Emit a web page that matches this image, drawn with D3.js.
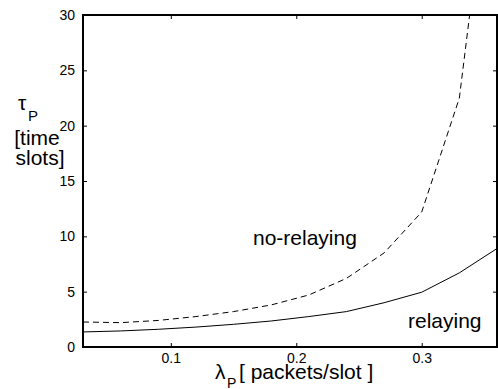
<!DOCTYPE html>
<html>
<head>
<meta charset="utf-8">
<script src="https://cdn.jsdelivr.net/npm/d3@7"></script>
<style>
  html, body { margin: 0; padding: 0; background: #fff; }
  svg { display: block; font-family: "Liberation Sans", Arial, Helvetica, sans-serif; }
</style>
</head>
<body>
<svg id="chart" width="498" height="389"></svg>
<script>
// ---- data ----
const lambdaP = [0.03, 0.06, 0.09, 0.12, 0.15, 0.18, 0.21, 0.24, 0.27, 0.30, 0.33, 0.36];
const relaying = [1.36, 1.45, 1.6, 1.8, 2.05, 2.35, 2.75, 3.2, 4.0, 4.95, 6.7, 8.9];
const noRelaying = [2.26, 2.2, 2.4, 2.75, 3.2, 3.8, 4.7, 6.2, 8.5, 12.2, 22.5, 50];
const xTicks = [0.1, 0.2, 0.3];
const yTicks = [0, 5, 10, 15, 20, 25, 30];
const xDomain = [0.03, 0.36];
const yDomain = [0, 30];

// ---- layout ----
const svg = d3.select("#chart");
const L = 83, T = 15, R = 497, B = 347;
const x = d3.scaleLinear().domain(xDomain).range([L, R]);
const y = d3.scaleLinear().domain(yDomain).range([B, T]);

svg.append("defs").append("clipPath").attr("id", "clip")
  .append("rect").attr("x", L).attr("y", T).attr("width", R - L).attr("height", B - T);

const line = d3.line().x(d => x(d[0])).y(d => y(d[1]));

const g = svg.append("g").attr("clip-path", "url(#clip)");
g.append("path")
  .datum(lambdaP.map((v, i) => [v, noRelaying[i]]))
  .attr("d", line).attr("fill", "none").attr("stroke", "#000")
  .attr("stroke-width", 1).attr("stroke-dasharray", "6,4");
g.append("path")
  .datum(lambdaP.map((v, i) => [v, relaying[i]]))
  .attr("d", line).attr("fill", "none").attr("stroke", "#000")
  .attr("stroke-width", 1);

// ---- axes ----
const tickFont = "14px";
const axB = svg.append("g").attr("transform", `translate(0,${B})`)
  .call(d3.axisBottom(x).tickValues(xTicks).tickSizeInner(-4).tickSizeOuter(0).tickPadding(13).tickFormat(d3.format(".1f")));
const axT = svg.append("g").attr("transform", `translate(0,${T})`)
  .call(d3.axisTop(x).tickValues(xTicks).tickSizeInner(-4).tickSizeOuter(0).tickFormat(""));
const axL = svg.append("g").attr("transform", `translate(${L},0)`)
  .call(d3.axisLeft(y).tickValues(yTicks).tickSizeInner(-4).tickSizeOuter(0).tickPadding(8).tickFormat(d3.format("d")));
const axR = svg.append("g").attr("transform", `translate(${R},0)`)
  .call(d3.axisRight(y).tickValues(yTicks).tickSizeInner(-4).tickSizeOuter(0).tickFormat(""));

[axB, axT, axL, axR].forEach(a => {
  a.select(".domain").remove();
  a.selectAll(".tick line").attr("stroke", "#000").attr("stroke-width", 1);
  a.selectAll("text").attr("fill", "#000").style("font-size", tickFont)
    .style("font-family", '"Liberation Sans", Arial, sans-serif');
});
axB.selectAll("text").attr("dy", null).attr("y", 16);

// box
svg.append("rect").attr("x", L).attr("y", T).attr("width", R - L).attr("height", B - T)
  .attr("fill", "none").attr("stroke", "#000").attr("stroke-width", 2);

// ---- labels ----
function txt(s, xx, yy, size, anchor) {
  return svg.append("text").attr("x", xx).attr("y", yy).attr("fill", "#000")
    .style("font-size", size).attr("text-anchor", anchor || "start").text(s);
}
// y label
txt("τ", 18, 110, "21px");
txt("P", 28, 121, "15px");
txt("[time", 37, 145, "21px", "middle");
txt("slots]", 40, 165, "21px", "middle");
// x label
txt("λ", 215, 379, "21px");
txt("P", 227, 388, "14px");
txt("[ packets/slot ]", 239, 379, "21px");
// curve labels
txt("no-relaying", 253, 245, "21px");
txt("relaying", 408, 328, "21px");
</script>
</body>
</html>
